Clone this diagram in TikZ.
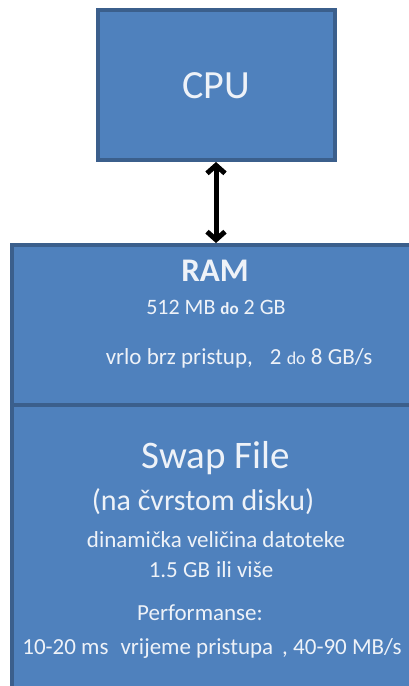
\documentclass[tikz,border=0pt]{standalone}
\usepackage{fontspec}
\setmainfont{Carlito}
\usetikzlibrary{arrows.meta}
\definecolor{boxfill}{HTML}{4F81BD}
\definecolor{boxline}{HTML}{3B5F8C}
\definecolor{txt}{HTML}{EEF2F8}
\tikzset{
  blk/.style={draw=boxline, fill=boxfill, line width=4pt},
  lbl/.style={text=txt, inner sep=0pt, anchor=center},
  conn/.style={line width=5pt, {Straight Barb[length=8pt,width=18pt,line width=5pt]}-{Straight Barb[length=8pt,width=18pt,line width=5pt]}}
}
\begin{document}
\begin{tikzpicture}[x=1pt,y=-1pt]
\useasboundingbox (0,0) rectangle (409,686);
\clip (0,0) rectangle (409,686);
\node[blk, minimum width=237pt, minimum height=150pt, inner sep=0pt] (cpu) at (216,85) {};
\node[lbl, font=\fontsize{40}{44}\selectfont] (cputxt) at (216,86) {CPU};
\draw[blk] (12,245) rectangle (425,405);
\draw[blk] (12,405) rectangle (425,700);
\coordinate (ramtop) at (216,243);
\node[lbl, font=\fontsize{33}{36}\selectfont\bfseries] (ram) at (215,271) {RAM};
\node[lbl, font=\fontsize{22}{25}\selectfont] (ram1) at (216,307) {512 MB {\fontsize{17}{20}\selectfont\bfseries do} 2 GB};
\node[lbl, font=\fontsize{23}{26}\selectfont] (ram2) at (239,358) {vrlo brz pristup,\hspace{17pt}2 {\fontsize{18}{20}\selectfont do} 8 GB/s};
\node[lbl, font=\fontsize{39}{43}\selectfont] (swap) at (216,458) {Swap File};
\node[lbl, font=\fontsize{30}{33}\selectfont] (sw1) at (203,502) {(na čvrstom disku)};
\node[lbl, font=\fontsize{23}{26}\selectfont] (sw2) at (216,540) {dinamička veličina datoteke};
\node[lbl, font=\fontsize{23}{26}\selectfont] (sw3) at (211,570) {1.5 GB\hspace{6pt}ili više};
\node[lbl, font=\fontsize{23}{26}\selectfont] (sw4) at (200,613) {Performanse:};
\node[lbl, font=\fontsize{23}{26}\selectfont] (sw5) at (212,648) {10-20 ms\hspace{12pt}vrijeme pristupa\hspace{9pt}, 40-90 MB/s};
\draw[conn] (cpu.south) -- (ramtop);
\end{tikzpicture}
\end{document}
